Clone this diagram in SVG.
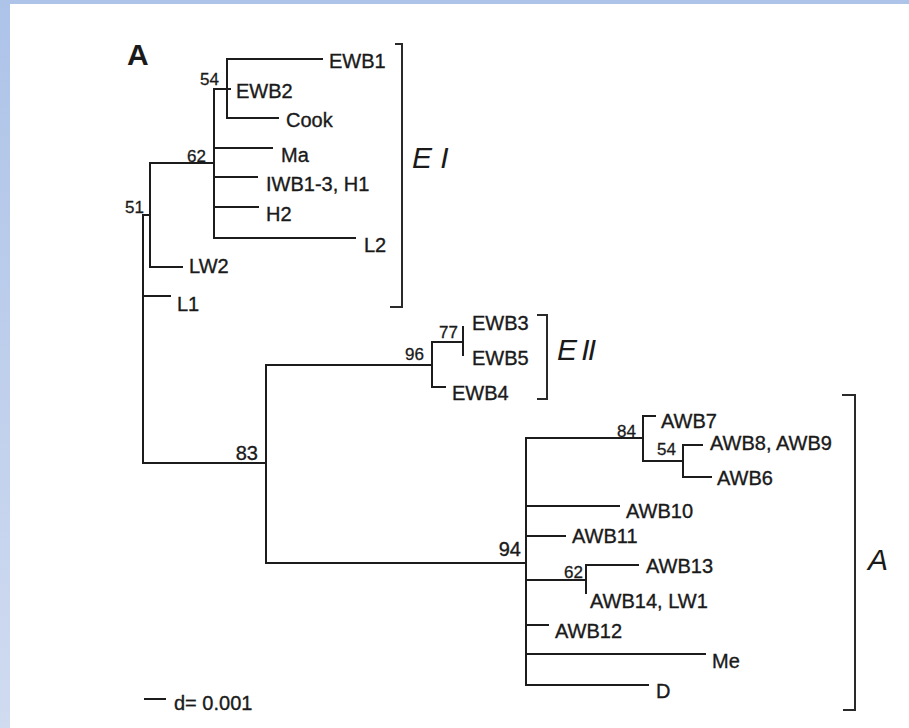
<svg xmlns="http://www.w3.org/2000/svg" width="909" height="728" viewBox="0 0 909 728">
<defs>
<linearGradient id="lg" x1="0" y1="0" x2="0" y2="1">
<stop offset="0" stop-color="#adc3e8"/>
<stop offset="1" stop-color="#d0dbf0"/>
</linearGradient>
</defs>
<style>
.br{fill:none;stroke:#1c1c1c;stroke-width:2;stroke-linecap:square}
.bk{fill:none;stroke:#2a2a2a;stroke-width:2}
.lb{font-family:"Liberation Sans",Arial,sans-serif;font-size:20px;fill:#1a1a1a;stroke:#1a1a1a;stroke-width:0.35}
.bs{font-family:"Liberation Sans",Arial,sans-serif;font-size:17px;fill:#1a1a1a;stroke:#1a1a1a;stroke-width:0.3;text-anchor:end}
.bb{font-family:"Liberation Sans",Arial,sans-serif;font-size:20px;fill:#1a1a1a;stroke:#1a1a1a;stroke-width:0.35;text-anchor:end}
.cl{font-family:"Liberation Sans",Arial,sans-serif;font-size:30px;font-style:italic;fill:#1a1a1a}
</style>
<rect x="0" y="0" width="909" height="728" fill="#ffffff"/>
<rect x="0" y="0" width="909" height="4" fill="#adc3e8"/>
<rect x="0" y="0" width="10" height="728" fill="url(#lg)"/>

<text x="127" y="65" font-family="Liberation Sans,Arial,sans-serif" font-size="30" font-weight="bold" fill="#1a1a1a">A</text>

<g id="connectors">
<path class="br" d="M143,215 V463 M143,296 H170 M143,215 H150"/>
<path class="br" d="M150,163 V267 M150,267 H182 M150,163 H214"/>
<path class="br" d="M214,89 V238 M214,148 H272 M214,177 H257 M214,207 H258 M214,238 H355 M214,89 H227"/>
<path class="br" d="M227,59 V118 M227,59 H322 M227,118 H278 M227,89 H230"/>
<path class="br" d="M143,463 H266 M266,365 V563"/>
<path class="br" d="M266,365 H432 M432,342 V387 M432,387 H445 M432,342 H463 M463,327 V355"/>
<path class="br" d="M266,563 H526 M526,438 V685"/>
<path class="br" d="M526,438 H643 M643,416 V461 M643,416 H655 M643,461 H683 M683,445 V477 M683,445 H702 M683,477 H711"/>
<path class="br" d="M526,506 H619 M526,536 H565 M526,580 H586 M586,565 V593 M586,565 H638 M526,625 H548 M526,654 H705 M526,685 H648"/>
<path class="br" d="M145,699 H165"/>
</g>

<g id="bootstrap">
<text class="bs" x="219" y="85">54</text>
<text class="bs" x="206" y="162">62</text>
<text class="bs" x="144" y="213">51</text>
<text class="bb" x="258" y="460">83</text>
<text class="bs" x="424" y="360">96</text>
<text class="bs" x="458" y="338">77</text>
<text class="bs" x="636" y="437">84</text>
<text class="bs" x="676" y="455">54</text>
<text class="bb" x="521" y="556">94</text>
<text class="bs" x="583" y="578">62</text>
</g>

<g id="n-EWB1"><text class="lb" x="329" y="68">EWB1</text></g>
<g id="n-EWB2"><text class="lb" x="236" y="98">EWB2</text></g>
<g id="n-Cook"><text class="lb" x="286" y="127">Cook</text></g>
<g id="n-Ma"><text class="lb" x="281" y="162">Ma</text></g>
<g id="n-IWB"><text class="lb" x="266" y="191">IWB1-3, H1</text></g>
<g id="n-H2"><text class="lb" x="266" y="221">H2</text></g>
<g id="n-L2"><text class="lb" x="364" y="252">L2</text></g>
<g id="n-LW2"><text class="lb" x="189" y="273">LW2</text></g>
<g id="n-L1"><text class="lb" x="177" y="311">L1</text></g>
<g id="n-EWB3"><text class="lb" x="472" y="330">EWB3</text></g>
<g id="n-EWB5"><text class="lb" x="472" y="365">EWB5</text></g>
<g id="n-EWB4"><text class="lb" x="452" y="400">EWB4</text></g>
<g id="n-AWB7"><text class="lb" x="661" y="428">AWB7</text></g>
<g id="n-AWB8"><text class="lb" x="710" y="450">AWB8, AWB9</text></g>
<g id="n-AWB6"><text class="lb" x="717" y="485">AWB6</text></g>
<g id="n-AWB10"><text class="lb" x="626" y="518">AWB10</text></g>
<g id="n-AWB11"><text class="lb" x="572" y="543">AWB11</text></g>
<g id="n-AWB13"><text class="lb" x="646" y="573">AWB13</text></g>
<g id="n-AWB14"><text class="lb" x="590" y="608">AWB14, LW1</text></g>
<g id="n-AWB12"><text class="lb" x="555" y="638">AWB12</text></g>
<g id="n-Me"><text class="lb" x="712" y="668">Me</text></g>
<g id="n-D"><text class="lb" x="656" y="698">D</text></g>

<g id="clade-EI">
<path class="bk" d="M395,44 H402 V307 H390"/>
<text class="cl" x="412" y="168">E I</text>
</g>
<g id="clade-EII">
<path class="bk" d="M537,315 H547 V399 H537"/>
<text class="cl" x="557" y="360" letter-spacing="-2">E II</text>
</g>
<g id="clade-A">
<path class="bk" d="M842,395 H855 V710 H843"/>
<text class="cl" x="868" y="570">A</text>
</g>

<g id="scale"><text class="lb" x="174" y="710">d= 0.001</text></g>
</svg>
